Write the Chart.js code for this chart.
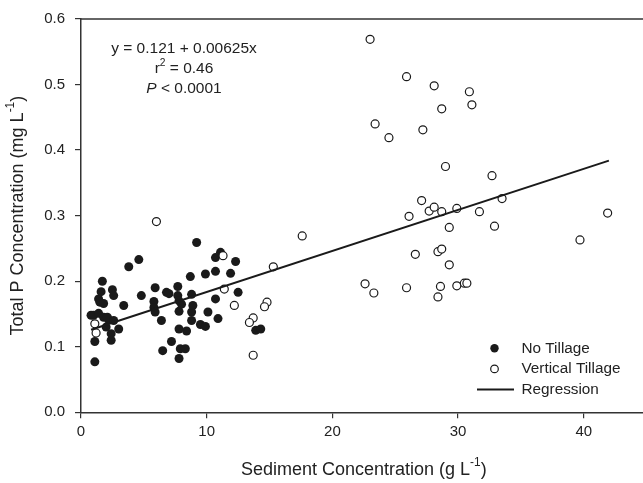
<!DOCTYPE html>
<html lang="en">
<head>
<meta charset="UTF-8" />
<title>Total P vs sediment concentration</title>
<script src="https://cdn.jsdelivr.net/npm/chart.js"></script>
<style>
    html, body { margin: 0; padding: 0; overflow: hidden; background: #fff; }
    canvas { display: block; }
</style>
</head>
<body>
<canvas id="scatter" width="660" height="483"></canvas>
<script>
// [sediment g/L, total P mg/L]
const noTillage = [
    [0.8,0.148],[1.0,0.148],[1.4,0.151],[1.1,0.108],[1.1,0.077],[1.4,0.173],[1.5,0.168],
    [1.6,0.184],[1.7,0.200],[1.8,0.166],[1.8,0.145],[2.2,0.141],[2.1,0.145],[2.5,0.187],
    [2.6,0.178],[2.4,0.110],[2.4,0.120],[2.6,0.140],[2.0,0.130],[3.0,0.127],[3.4,0.163],
    [3.8,0.222],[4.6,0.233],[4.8,0.178],[5.8,0.169],[5.8,0.160],[5.9,0.190],[5.9,0.153],
    [6.4,0.140],[6.5,0.094],[6.8,0.183],[7.0,0.181],[7.2,0.108],[7.7,0.192],[7.7,0.178],
    [7.8,0.170],[7.8,0.154],[7.8,0.127],[7.8,0.082],[7.9,0.097],[8.0,0.165],[8.3,0.097],
    [8.4,0.124],[8.7,0.207],[8.8,0.180],[8.8,0.153],[8.8,0.140],[8.9,0.163],[9.2,0.259],
    [9.5,0.134],[9.9,0.131],[9.9,0.211],[10.1,0.153],[10.7,0.173],[10.7,0.215],[10.7,0.236],
    [10.9,0.143],[11.1,0.244],[11.9,0.212],[12.3,0.230],[12.5,0.183],[13.9,0.125],[14.3,0.127]
];
const verticalTillage = [
    [23.0,0.569],[25.9,0.512],[28.1,0.498],[30.9,0.489],[31.1,0.469],[28.7,0.463],[23.4,0.440],
    [24.5,0.419],[27.2,0.431],[29.0,0.375],[32.7,0.361],[33.5,0.326],[27.1,0.323],[27.7,0.307],
    [28.1,0.313],[28.7,0.306],[29.9,0.311],[31.7,0.306],[26.1,0.299],[41.9,0.304],[29.3,0.282],
    [32.9,0.284],[39.7,0.263],[26.6,0.241],[28.4,0.245],[28.7,0.249],[29.3,0.225],[22.6,0.196],
    [23.3,0.182],[25.9,0.190],[28.6,0.192],[28.4,0.176],[29.9,0.193],[30.5,0.197],[30.7,0.197],
    [17.6,0.269],[15.3,0.222],[6.0,0.291],[11.3,0.239],[11.4,0.188],[12.2,0.163],[14.8,0.168],
    [14.6,0.161],[13.7,0.144],[13.4,0.137],[13.7,0.087],[1.1,0.135],[1.2,0.121]
];
const regression = [[0.8,0.126],[42.0,0.384]];
const xTicks = [0, 10, 20, 30, 40];
const yTicks = [0.0, 0.1, 0.2, 0.3, 0.4, 0.5, 0.6];

const FONT = "'Liberation Sans', Arial, sans-serif";
const INK = '#222';

const toXY = arr => arr.map(p => ({ x: p[0], y: p[1] }));

// text with superscript / italic pieces
function drawRich(ctx, parts, x, y, size, align) {
    const fontOf = p => (p.italic ? 'italic ' : '') + (p.sup ? size * 0.66 : size) + 'px ' + FONT;
    let total = 0;
    parts.forEach(p => { ctx.font = fontOf(p); total += ctx.measureText(p.t).width; });
    let cx = align === 'center' ? x - total / 2 : x;
    ctx.textAlign = 'left';
    ctx.textBaseline = 'middle';
    parts.forEach(p => {
        ctx.font = fontOf(p);
        ctx.fillText(p.t, cx, p.sup ? y - size * 0.38 : y);
        cx += ctx.measureText(p.t).width;
    });
}

const extras = {
    id: 'extras',
    afterDraw(chart) {
        const ctx = chart.ctx;
        const a = chart.chartArea;
        ctx.save();
        ctx.fillStyle = INK;

        // top frame line
        ctx.strokeStyle = '#333';
        ctx.lineWidth = 1.5;
        ctx.beginPath();
        ctx.moveTo(a.left, a.top);
        ctx.lineTo(a.right, a.top);
        ctx.stroke();

        // axis titles
        drawRich(ctx, [{ t: 'Sediment Concentration (g L' }, { t: '-1', sup: true }, { t: ')' }],
            (a.left + a.right) / 2, 470, 18, 'center');
        ctx.save();
        ctx.translate(18, (a.top + a.bottom) / 2);
        ctx.rotate(-Math.PI / 2);
        drawRich(ctx, [{ t: 'Total P Concentration (mg L' }, { t: '-1', sup: true }, { t: ')' }],
            0, 0, 18, 'center');
        ctx.restore();

        // regression statistics
        const sx = a.left + 103;
        drawRich(ctx, [{ t: 'y = 0.121 + 0.00625x' }], sx, a.top + 30, 15.5, 'center');
        drawRich(ctx, [{ t: 'r' }, { t: '2', sup: true }, { t: ' = 0.46' }], sx, a.top + 50, 15.5, 'center');
        drawRich(ctx, [{ t: 'P', italic: true }, { t: ' < 0.0001' }], sx, a.top + 69.5, 15.5, 'center');

        // legend
        const lx = 494.5, tx = 521.5;
        const rows = [348.3, 368.9, 389.5];
        ctx.fillStyle = '#1a1a1a';
        ctx.beginPath(); ctx.arc(lx, rows[0], 4.2, 0, Math.PI * 2); ctx.fill();
        ctx.fillStyle = '#fff';
        ctx.strokeStyle = '#1a1a1a';
        ctx.lineWidth = 1.2;
        ctx.beginPath(); ctx.arc(lx, rows[1], 3.8, 0, Math.PI * 2); ctx.fill(); ctx.stroke();
        ctx.lineWidth = 2;
        ctx.beginPath(); ctx.moveTo(477, rows[2]); ctx.lineTo(514, rows[2]); ctx.stroke();
        ctx.fillStyle = INK;
        drawRich(ctx, [{ t: 'No Tillage' }], tx, rows[0], 15.3, 'left');
        drawRich(ctx, [{ t: 'Vertical Tillage' }], tx, rows[1], 15.3, 'left');
        drawRich(ctx, [{ t: 'Regression' }], tx, rows[2], 15.3, 'left');
        ctx.restore();
    }
};

new Chart(document.getElementById('scatter').getContext('2d'), {
    type: 'scatter',
    data: {
        datasets: [
            {
                label: 'Regression',
                type: 'line',
                data: toXY(regression),
                borderColor: '#1a1a1a',
                borderWidth: 2,
                pointRadius: 0,
                fill: false,
                order: 0
            },
            {
                label: 'Vertical Tillage',
                data: toXY(verticalTillage),
                pointRadius: 4,
                pointBackgroundColor: '#fff',
                pointBorderColor: '#1a1a1a',
                pointBorderWidth: 1.2,
                order: 1
            },
            {
                label: 'No Tillage',
                data: toXY(noTillage),
                pointRadius: 4.5,
                pointBackgroundColor: '#1a1a1a',
                pointBorderColor: '#1a1a1a',
                pointBorderWidth: 0,
                order: 2
            }
        ]
    },
    options: {
        responsive: false,
        devicePixelRatio: 1,
        animation: false,
        layout: { padding: { top: 17, right: 13.4, left: 0, bottom: 0 } },
        plugins: { legend: { display: false }, tooltip: { enabled: false } },
        scales: {
            x: {
                type: 'linear',
                min: 0,
                max: 45,
                afterFit: s => { s.height = 70.7; },
                afterBuildTicks: s => { s.ticks = xTicks.map(v => ({ value: v })); },
                border: { display: true, color: '#333', width: 1.5 },
                grid: { drawOnChartArea: false, drawTicks: true, tickLength: 6, color: '#333', lineWidth: 1.2 },
                ticks: { font: { family: FONT, size: 15 }, color: INK, padding: 5, maxRotation: 0 }
            },
            y: {
                type: 'linear',
                min: 0,
                max: 0.6,
                afterFit: s => { s.width = 81; },
                afterBuildTicks: s => { s.ticks = yTicks.map(v => ({ value: v })); },
                border: { display: true, color: '#333', width: 1.5 },
                grid: { drawOnChartArea: false, drawTicks: true, tickLength: 6, color: '#333', lineWidth: 1.2 },
                ticks: {
                    font: { family: FONT, size: 15 }, color: INK, padding: 10,
                    callback: v => v.toFixed(1)
                }
            }
        }
    },
    plugins: [extras]
});
</script>
</body>
</html>
